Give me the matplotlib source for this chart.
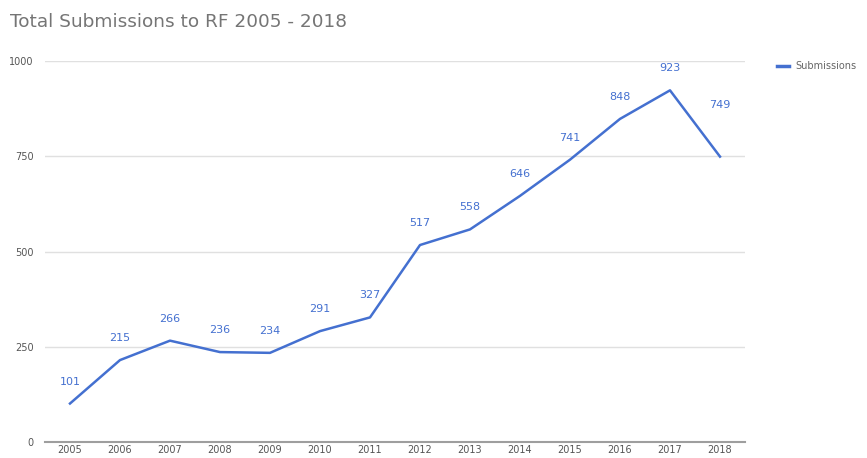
import matplotlib
matplotlib.use("Agg")
import matplotlib.pyplot as plt
from matplotlib.lines import Line2D

years = [2005, 2006, 2007, 2008, 2009, 2010, 2011, 2012, 2013, 2014, 2015, 2016, 2017, 2018]
submissions = [101, 215, 266, 236, 234, 291, 327, 517, 558, 646, 741, 848, 923, 749]
yticks = [0, 250, 500, 750, 1000]

BLUE = "#4470d0"
GREY = "#757575"

fig = plt.figure(figsize=(8.67, 4.58), dpi=100)
ax = fig.add_axes([45/867, 1-442/458, 700/867, 381/458])

ax.plot(years, submissions, color=BLUE, lw=1.8, solid_joinstyle="round")
ax.set_xlim(years[0]-0.5, years[-1]+0.5)
ax.set_ylim(0, 1000)

for i, (x, y) in enumerate(zip(years, submissions)):
    off = 52 if i == len(years)-1 else 22
    ax.annotate(str(y), (x, y), xytext=(0, off), textcoords="offset pixels",
                ha="center", va="center", fontsize=8, color=BLUE)

ax.set_yticks(yticks)
ax.set_yticklabels([str(t) for t in yticks])
ax.set_xticks(years)
ax.set_xticklabels([str(y) for y in years])
ax.grid(axis="y", color="#e0e0e0", lw=1)
ax.set_axisbelow(True)
for s in ["top", "right", "left"]:
    ax.spines[s].set_visible(False)
ax.spines["bottom"].set_color("#9e9e9e")
ax.spines["bottom"].set_linewidth(1.5)
ax.tick_params(axis="both", length=0, labelsize=7, labelcolor="#555555")
ax.tick_params(axis="y", pad=8)
ax.tick_params(axis="x", pad=2)

fig.text(10/867, 1-22/458, "Total Submissions to RF 2005 - 2018", fontsize=13.3,
         color=GREY, ha="left", va="center")

fig.legend(handles=[Line2D([0], [0], color=BLUE, lw=2.5)], labels=["Submissions"],
           loc="center left", bbox_to_anchor=(768/867, 1-66/458), frameon=False,
           fontsize=7, handlelength=1.3, handletextpad=0.6, labelcolor="#666666")

fig.savefig("out.png", dpi=100)
